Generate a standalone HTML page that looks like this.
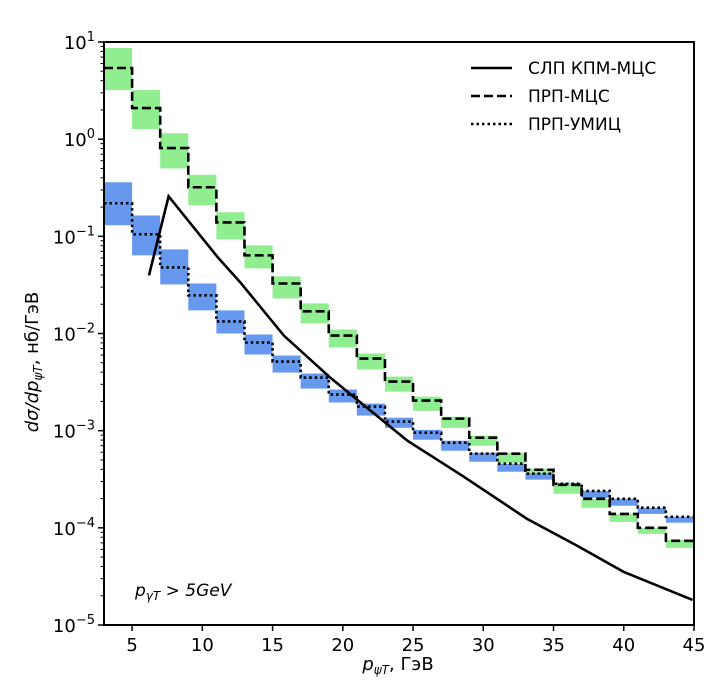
<!DOCTYPE html>
<html><head><meta charset="utf-8"><style>
body{margin:0;background:#fff;}
svg{display:block;font-family:"DejaVu Sans","Liberation Sans",sans-serif;}
</style></head><body>
<svg id="chart" width="724" height="698" viewBox="0 0 724 698" xmlns="http://www.w3.org/2000/svg">
<rect width="724" height="698" fill="#fff"/>
<g id="bands"></g><g id="lines"></g><g id="axes"></g>
<g>
<line x1="471" y1="68" x2="512" y2="68" stroke="#000" stroke-width="2.6"/>
<text x="528" y="74" font-size="17">СЛП КПМ-МЦС</text>
<line x1="471" y1="96" x2="512" y2="96" stroke="#000" stroke-width="2.6" stroke-dasharray="9,4"/>
<text x="528" y="102" font-size="17">ПРП-МЦС</text>
<line x1="471" y1="124" x2="512" y2="124" stroke="#000" stroke-width="2.6" stroke-dasharray="2.5,3"/>
<text x="528" y="130" font-size="17">ПРП-УМИЦ</text>
</g>
<text x="135" y="596" font-size="17" font-style="italic">p<tspan font-size="12" dy="4">γT</tspan><tspan dy="-4"> &gt; 5GeV</tspan></text>
<text x="398" y="670" font-size="18" text-anchor="middle"><tspan font-style="italic">p</tspan><tspan font-size="12" font-style="italic" dy="4">ψT</tspan><tspan dy="-4">, ГэВ</tspan></text>
<text transform="translate(38,362) rotate(-90)" font-size="18" text-anchor="middle"><tspan font-style="italic">dσ/dp</tspan><tspan font-size="12" font-style="italic" dy="4">ψT</tspan><tspan dy="-4">, нб/ГэВ</tspan></text>
</svg>
<script>
const binEdges=[3,5,7,9,11,13,15,17,19,21,23,25,27,29,31,33,35,37,39,41,43,45];
const mcsVal=[5.4,2.09,0.81,0.32,0.139,0.0637,0.0327,0.0169,0.00953,0.00552,0.0032,0.00204,0.00133,0.000847,0.00058,0.000396,0.000277,0.000199,0.000139,0.0001,0.0000735];
const mcsHi=[8.67,3.2,1.15,0.43,0.177,0.0807,0.0387,0.0204,0.011,0.00622,0.0036,0.00224,0.00139,0.000887,0.000593,0.000406,0.000291,0.000199,0.000139,0.0001,0.0000752];
const mcsLo=[3.2,1.27,0.5,0.209,0.093,0.0468,0.023,0.0127,0.00718,0.00426,0.00252,0.0016,0.00107,0.0007,0.000468,0.000369,0.000224,0.000161,0.000115,0.0000867,0.0000622];
const umicVal=[0.219,0.105,0.0479,0.0247,0.0133,0.00807,0.00514,0.00352,0.00235,0.00177,0.00124,0.000953,0.000752,0.00058,0.000457,0.000361,0.000284,0.00024,0.000199,0.000161,0.00013];
const umicHi=[0.36,0.164,0.0734,0.0327,0.0173,0.00977,0.00593,0.00387,0.00265,0.0019,0.00136,0.00102,0.000788,0.000593,0.000457,0.000369,0.000291,0.00024,0.000199,0.000161,0.00013];
const umicLo=[0.13,0.0637,0.032,0.0173,0.01,0.00608,0.00396,0.00271,0.00195,0.00143,0.00107,0.000807,0.000622,0.000479,0.000378,0.000313,0.000252,0.000204,0.000169,0.000139,0.000113];
const slpX=[6.2,7.6,11.1,12.7,15.8,19.1,21.1,24.6,28.5,33.1,36.7,40,44.9];
const slpY=[0.0396,0.258,0.0608,0.0336,0.00953,0.00352,0.00204,0.000788,0.000344,0.000124,0.0000652,0.0000352,0.0000181];
const xTicks=[5,10,15,20,25,30,35,40,45];
const yTickExp=[1,0,-1,-2,-3,-4,-5];

const L=104,R=694,T=42,B=625,XMIN=3,XMAX=45,EMAX=1,EMIN=-5;
const xs=v=>L+(v-XMIN)/(XMAX-XMIN)*(R-L);
const ys=v=>T+(EMAX-Math.log10(v))/(EMAX-EMIN)*(B-T);
const NS='http://www.w3.org/2000/svg';
function mk(tag,parent,attrs){const e=document.createElementNS(NS,tag);for(const k in attrs)e.setAttribute(k,attrs[k]);parent.appendChild(e);return e;}
const bands=document.getElementById('bands'),lines=document.getElementById('lines'),axes=document.getElementById('axes');

function drawBands(lo,hi,color,name){
  for(let i=0;i<lo.length;i++){
    const r=mk('rect',bands,{x:xs(binEdges[i]),y:ys(hi[i]),width:xs(binEdges[i+1])-xs(binEdges[i]),height:ys(lo[i])-ys(hi[i]),fill:color});
    
    
  }
}
drawBands(umicLo,umicHi,'#6699ee','umic');
drawBands(mcsLo,mcsHi,'#90ee90','mcs');

function stepPath(vals){
  let d='M'+xs(binEdges[0])+','+ys(vals[0]);
  for(let i=0;i<vals.length;i++){
    if(i>0)d+=' L'+xs(binEdges[i])+','+ys(vals[i]);
    d+=' L'+xs(binEdges[i+1])+','+ys(vals[i]);
  }
  return d;
}
const pm=mk('path',lines,{d:stepPath(mcsVal),fill:'none',stroke:'#000','stroke-width':2.6,'stroke-dasharray':'9,4'});


const pu=mk('path',lines,{d:stepPath(umicVal),fill:'none',stroke:'#000','stroke-width':2.6,'stroke-dasharray':'2.5,3'});


const ps=mk('path',lines,{d:'M'+slpX.map((x,i)=>xs(x)+','+ys(slpY[i])).join(' L'),fill:'none',stroke:'#000','stroke-width':2.6});



const frame=mk('rect',axes,{x:L,y:T,width:R-L,height:B-T,fill:'none',stroke:'#000','stroke-width':2});


xTicks.forEach(t=>{
  const x=xs(t);
  const tk=mk('line',axes,{x1:x,y1:B,x2:x,y2:B+6,stroke:'#000','stroke-width':1.5});
  
  
  const tl=mk('text',axes,{x:x,y:B+26,'font-size':18,'text-anchor':'middle'});
  tl.textContent=t;
  
  
});
yTickExp.forEach(e=>{
  const y=ys(Math.pow(10,e));
  const tk=mk('line',axes,{x1:L-6,y1:y,x2:L,y2:y,stroke:'#000','stroke-width':1.5});
  
  
  const tl=mk('text',axes,{x:L-9,y:y+7,'font-size':18,'text-anchor':'end'});
  
  
  const a=mk('tspan',tl,{});a.textContent='10';
  const b=mk('tspan',tl,{dy:-8,'font-size':13});b.textContent=(e<0?'\u2212':'')+Math.abs(e);
  if(e>EMIN){for(let m=2;m<=9;m++){
    const ym=ys(m*Math.pow(10,e-1));
    const mt=mk('line',axes,{x1:L-3.5,y1:ym,x2:L,y2:ym,stroke:'#000','stroke-width':1});
    
    
  }}
});
</script>
</body></html>
